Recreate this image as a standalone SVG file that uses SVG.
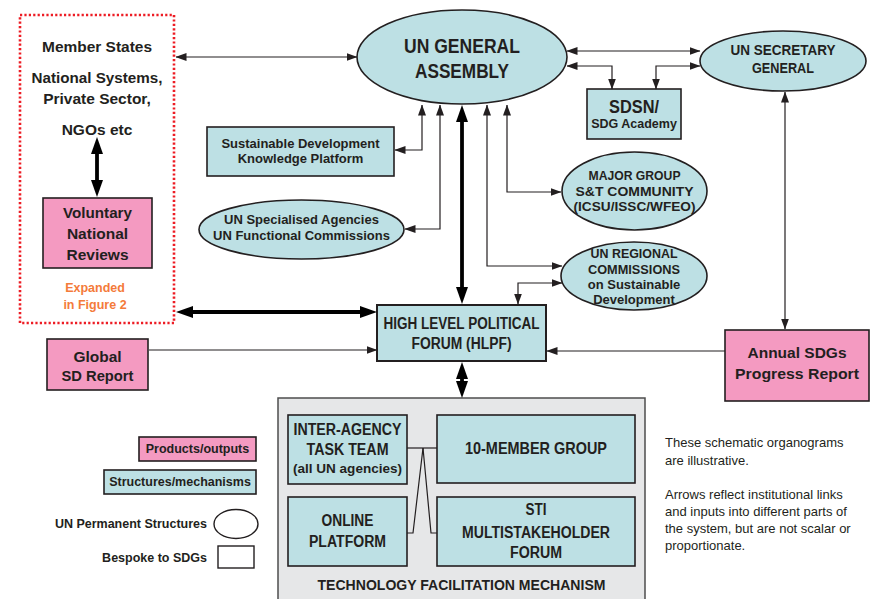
<svg xmlns="http://www.w3.org/2000/svg" width="879" height="599" viewBox="0 0 879 599">
<style>
.blue{fill:#bde0e4;stroke:#231f20;stroke-width:1.6}
.pink{fill:#f49ac1;stroke:#231f20;stroke-width:1.6}
.white{fill:#fff;stroke:#231f20;stroke-width:1.4}
.t{font-family:"Liberation Sans",Arial,sans-serif;font-weight:bold;fill:#231f20;text-anchor:middle}
.n{font-family:"Liberation Sans",Arial,sans-serif;fill:#231f20;font-size:13px}
.c{fill:none;stroke:#231f20;stroke-width:1.2}
.k{fill:none;stroke:#000;stroke-width:3.8}
</style>
<defs>
<marker id="a" markerUnits="userSpaceOnUse" viewBox="0 0 11 8" markerWidth="11" markerHeight="8" refX="10.5" refY="4" orient="auto-start-reverse"><path d="M0,0 L11,4 L0,8 z" fill="#231f20"/></marker>
<marker id="b" markerUnits="userSpaceOnUse" viewBox="0 0 17 12" markerWidth="17" markerHeight="12" refX="11" refY="6" orient="auto-start-reverse"><path d="M0,0 L17,6 L0,12 z" fill="#000"/></marker>
</defs>
<rect width="879" height="599" fill="#fff"/>

<g id="member-states">
<rect x="20" y="15" width="154" height="308" fill="none" stroke="#ed1c24" stroke-width="2.6" stroke-dasharray="2.2 2.2"/>
<text class="t" font-size="15.5" x="97" y="52" textLength="110" lengthAdjust="spacingAndGlyphs">Member States</text>
<text class="t" font-size="15.5" x="97" y="83" textLength="131" lengthAdjust="spacingAndGlyphs">National Systems,</text>
<text class="t" font-size="15.5" x="97" y="104">Private Sector,</text>
<text class="t" font-size="15.5" x="97" y="135">NGOs etc</text>
<text class="t" font-size="12.5" x="95" y="292" style="fill:#f47b3a">Expanded</text>
<text class="t" font-size="12.5" x="95" y="309" style="fill:#f47b3a">in Figure 2</text>
</g>

<g id="vnr">
<rect class="pink" x="43" y="198" width="109" height="70"/>
<text class="t" font-size="15.5" x="97.5" y="218" textLength="69" lengthAdjust="spacingAndGlyphs">Voluntary</text>
<text class="t" font-size="15.5" x="97.5" y="239">National</text>
<text class="t" font-size="15.5" x="97.5" y="260">Reviews</text>
</g>

<g id="general-assembly">
<ellipse class="blue" cx="462" cy="57" rx="105" ry="47"/>
<text class="t" font-size="20.5" x="462" y="53" textLength="116" lengthAdjust="spacingAndGlyphs">UN GENERAL</text>
<text class="t" font-size="20.5" x="462" y="78" textLength="94" lengthAdjust="spacingAndGlyphs">ASSEMBLY</text>
</g>

<g id="secretary-general">
<ellipse class="blue" cx="783" cy="61" rx="83" ry="30"/>
<text class="t" font-size="15.5" x="783" y="55" textLength="105" lengthAdjust="spacingAndGlyphs">UN SECRETARY</text>
<text class="t" font-size="15.5" x="783" y="73" textLength="62" lengthAdjust="spacingAndGlyphs">GENERAL</text>
</g>

<g id="sdsn">
<rect class="blue" x="587" y="89" width="94" height="50"/>
<text class="t" font-size="17.5" x="634" y="113" textLength="50" lengthAdjust="spacingAndGlyphs">SDSN/</text>
<text class="t" font-size="12.5" x="634" y="128">SDG Academy</text>
</g>

<g id="sdkp">
<rect class="blue" x="207" y="127" width="187" height="49"/>
<text class="t" font-size="13" x="300.5" y="148">Sustainable Development</text>
<text class="t" font-size="13" x="300.5" y="163">Knowledge Platform</text>
</g>

<g id="specialised">
<ellipse class="blue" cx="301.5" cy="229.5" rx="102.5" ry="29.5"/>
<text class="t" font-size="13" x="301.5" y="224">UN Specialised Agencies</text>
<text class="t" font-size="13" x="301.5" y="240">UN Functional Commissions</text>
</g>

<g id="major-group">
<ellipse class="blue" cx="634.5" cy="191" rx="72.5" ry="39"/>
<text class="t" font-size="13" x="634.5" y="180" textLength="92" lengthAdjust="spacingAndGlyphs">MAJOR GROUP</text>
<text class="t" font-size="13" x="634.5" y="196" textLength="118" lengthAdjust="spacingAndGlyphs">S&amp;T COMMUNITY</text>
<text class="t" font-size="13" x="634.5" y="211" textLength="122" lengthAdjust="spacingAndGlyphs">(ICSU/ISSC/WFEO)</text>
</g>

<g id="regional">
<ellipse class="blue" cx="634" cy="276" rx="73" ry="34"/>
<text class="t" font-size="13" x="634" y="258" textLength="87" lengthAdjust="spacingAndGlyphs">UN REGIONAL</text>
<text class="t" font-size="13" x="634" y="273.5" textLength="92" lengthAdjust="spacingAndGlyphs">COMMISSIONS</text>
<text class="t" font-size="13" x="634" y="289">on Sustainable</text>
<text class="t" font-size="13" x="634" y="304">Development</text>
</g>

<g id="hlpf">
<rect class="blue" x="377" y="305" width="169" height="56" style="stroke-width:2"/>
<text class="t" font-size="16" x="461.5" y="329" textLength="156" lengthAdjust="spacingAndGlyphs">HIGH LEVEL POLITICAL</text>
<text class="t" font-size="16" x="461.5" y="349" textLength="100" lengthAdjust="spacingAndGlyphs">FORUM (HLPF)</text>
</g>

<g id="global-sd-report">
<rect class="pink" x="47" y="339" width="101" height="51"/>
<text class="t" font-size="15.5" x="97.5" y="362">Global</text>
<text class="t" font-size="15.5" x="97.5" y="381" textLength="72" lengthAdjust="spacingAndGlyphs">SD Report</text>
</g>

<g id="annual-report">
<rect class="pink" x="725" y="330" width="144" height="71"/>
<text class="t" font-size="15.5" x="797" y="358">Annual SDGs</text>
<text class="t" font-size="15.5" x="797" y="379" textLength="124" lengthAdjust="spacingAndGlyphs">Progress Report</text>
</g>

<g id="tfm">
<rect x="278" y="398" width="367" height="215" fill="#e6e7e8" stroke="#4d4d4d" stroke-width="1.5"/>
<text class="t" font-size="15.5" x="461.5" y="590" textLength="288" lengthAdjust="spacingAndGlyphs">TECHNOLOGY FACILITATION MECHANISM</text>
</g>

<g id="iatt">
<rect class="blue" x="288" y="415" width="119" height="69"/>
<text class="t" font-size="16" x="347.5" y="435" textLength="108" lengthAdjust="spacingAndGlyphs">INTER-AGENCY</text>
<text class="t" font-size="16" x="347.5" y="455" textLength="82" lengthAdjust="spacingAndGlyphs">TASK TEAM</text>
<text class="t" font-size="13.5" x="347.5" y="473" textLength="109" lengthAdjust="spacingAndGlyphs">(all UN agencies)</text>
</g>

<g id="ten-member">
<rect class="blue" x="437" y="415" width="198" height="68"/>
<text class="t" font-size="16.5" x="536" y="454" textLength="142" lengthAdjust="spacingAndGlyphs">10-MEMBER GROUP</text>
</g>

<g id="online-platform">
<rect class="blue" x="288" y="497" width="119" height="69"/>
<text class="t" font-size="16" x="347.5" y="526" textLength="52" lengthAdjust="spacingAndGlyphs">ONLINE</text>
<text class="t" font-size="16" x="347.5" y="547" textLength="77" lengthAdjust="spacingAndGlyphs">PLATFORM</text>
</g>

<g id="sti-forum">
<rect class="blue" x="437" y="497" width="198" height="69"/>
<text class="t" font-size="16" x="536" y="514.5" textLength="21" lengthAdjust="spacingAndGlyphs">STI</text>
<text class="t" font-size="16" x="536" y="537.5" textLength="148" lengthAdjust="spacingAndGlyphs">MULTISTAKEHOLDER</text>
<text class="t" font-size="16" x="536" y="558" textLength="52" lengthAdjust="spacingAndGlyphs">FORUM</text>
</g>

<g id="legend">
<rect class="pink" x="139" y="437" width="117" height="24"/>
<text class="t" font-size="12.5" x="197.5" y="452.5">Products/outputs</text>
<rect class="blue" x="104" y="470" width="152" height="24"/>
<text class="t" font-size="12.5" x="180" y="486">Structures/mechanisms</text>
<text class="t" font-size="12.5" x="207" y="528" style="text-anchor:end">UN Permanent Structures</text>
<ellipse class="white" cx="236" cy="524" rx="22" ry="14.5"/>
<text class="t" font-size="12.5" x="207" y="562" style="text-anchor:end">Bespoke to SDGs</text>
<rect class="white" x="218" y="546" width="36" height="22"/>
</g>

<g id="note">
<text class="n" x="665" y="447">These schematic organograms</text>
<text class="n" x="665" y="465">are illustrative.</text>
<text class="n" x="665" y="499">Arrows reflect institutional links</text>
<text class="n" x="665" y="516">and inputs into different parts of</text>
<text class="n" x="665" y="533">the system, but are not scalar or</text>
<text class="n" x="665" y="550">proportionate.</text>
</g>

<g id="connectors">
<path class="c" d="M176,57 H357" marker-start="url(#a)" marker-end="url(#a)"/>
<path class="c" d="M567,51 H700" marker-start="url(#a)" marker-end="url(#a)"/>
<path class="c" d="M567,66 H612 V89" marker-start="url(#a)" marker-end="url(#a)"/>
<path class="c" d="M656,89 V66 H700" marker-start="url(#a)" marker-end="url(#a)"/>
<path class="c" d="M422,105 V150 H395" marker-start="url(#a)" marker-end="url(#a)"/>
<path class="c" d="M440,105 V229 H405" marker-start="url(#a)" marker-end="url(#a)"/>
<path class="c" d="M507,105 V192 H561" marker-start="url(#a)" marker-end="url(#a)"/>
<path class="c" d="M487,105 V266 H562" marker-start="url(#a)" marker-end="url(#a)"/>
<path class="c" d="M562,283 H518 V304" marker-start="url(#a)" marker-end="url(#a)"/>
<path class="c" d="M785,92 V329" marker-start="url(#a)" marker-end="url(#a)"/>
<path class="c" d="M149,350 H377" marker-end="url(#a)"/>
<path class="c" d="M725,351 H547" marker-end="url(#a)"/>
<path class="k" d="M182,312 H371" marker-start="url(#b)" marker-end="url(#b)"/>
<path class="k" d="M462,111 V298" marker-start="url(#b)" marker-end="url(#b)"/>
<path class="k" d="M462,368 V392" marker-start="url(#b)" marker-end="url(#b)"/>
<path class="k" d="M97,143 V191" marker-start="url(#b)" marker-end="url(#b)"/>
<path class="c" d="M407,448 H437"/>
<path class="c" d="M423,448 L413,533 H407"/>
<path class="c" d="M423,448 L431,533 H437"/>
</g>
</svg>
